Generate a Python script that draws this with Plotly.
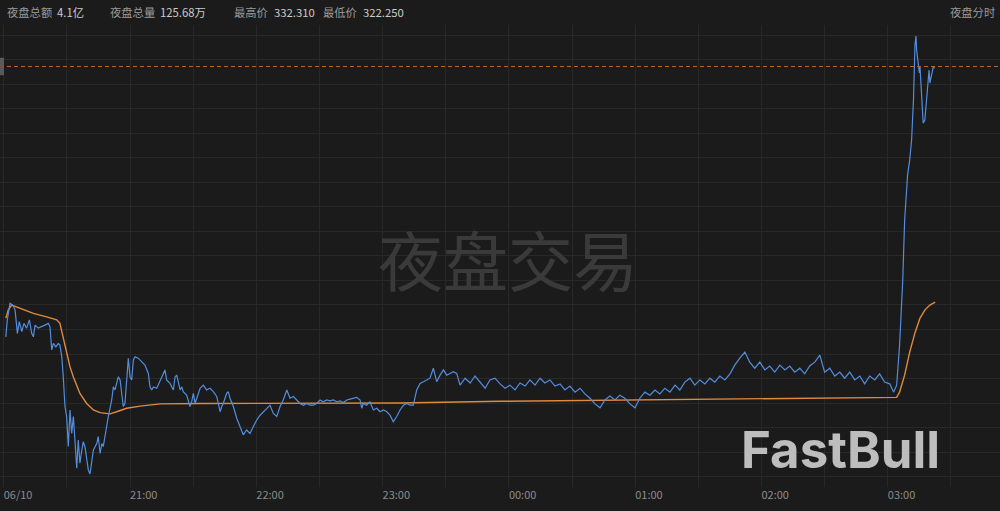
import plotly.graph_objects as go

# ---- data (minutes after 20:00, price) ----
blue_min = [1.0, 1.7, 3.0, 4.3, 5.4, 6.5, 7.4, 8.6, 9.6, 10.9, 12.2, 13.3, 14.1, 14.9, 16.4, 18.1, 19.6, 21.2, 22.0,
            22.8, 23.6, 24.8, 25.9, 26.7, 27.6, 28.3, 29.1, 29.9, 30.7, 31.5, 32.3, 33.1, 33.9, 34.7, 35.4, 36.2,
            37.1, 37.8, 38.6, 39.4, 40.2, 41.0, 41.8, 42.6, 44.2, 44.9, 45.8, 46.6, 47.3, 48.1, 48.9, 49.7, 51.3,
            52.1, 52.9, 53.7, 54.4, 55.3, 56.1, 56.8, 57.6, 58.4, 59.2, 60.0, 60.8, 61.6, 62.4, 63.9, 65.6, 67.1,
            68.7, 69.5, 70.3, 71.1, 72.7, 74.3, 75.8, 76.6, 77.4, 79.0, 80.6, 81.4, 82.2, 83.0, 83.8, 84.6, 85.3,
            86.9, 88.5, 89.3, 90.1, 90.9, 91.7, 93.3, 94.8, 96.4, 98.0, 99.6, 101.2, 102.8, 103.6, 104.3, 105.9,
            106.7, 107.5, 109.1, 110.7, 112.3, 113.8, 115.4, 117.0, 118.6, 120.2, 121.8, 123.3, 124.9, 126.5,
            128.1, 129.7, 131.3, 132.8, 134.5, 135.2, 136.0, 137.6, 139.2, 140.8, 142.3, 144.0, 145.5, 147.1,
            148.7, 150.3, 151.8, 153.5, 155.0, 156.6, 158.2, 159.8, 161.3, 163.0, 164.5, 166.1, 167.7, 169.3,
            170.1, 170.8, 172.4, 174.0, 175.6, 177.2, 178.8, 180.4, 182.0, 183.5, 185.1, 186.7, 188.3, 189.9,
            191.5, 193.0, 194.6, 196.2, 197.8, 199.4, 201.0, 202.5, 204.1, 205.7, 207.3, 208.9, 210.5, 212.0,
            213.6, 215.2, 216.8, 219.2, 221.6, 223.9, 226.3, 228.7, 231.0, 233.4, 235.8, 238.2, 240.5, 242.9,
            245.3, 247.7, 250.0, 252.4, 254.8, 257.1, 259.5, 261.9, 264.3, 266.6, 269.0, 271.4, 273.8, 276.1,
            278.5, 280.9, 283.3, 285.6, 288.0, 290.4, 292.7, 295.1, 297.5, 299.9, 302.2, 304.6, 307.0, 309.4,
            311.7, 314.1, 316.5, 318.9, 321.2, 323.6, 326.0, 328.3, 330.7, 333.1, 335.5, 337.8, 340.2, 342.6,
            345.0, 347.3, 349.7, 352.1, 354.4, 356.8, 359.2, 361.6, 363.9, 366.3, 368.7, 371.1, 373.4, 375.8,
            378.2, 380.5, 382.9, 385.3, 387.7, 390.0, 392.4, 394.8, 397.2, 399.5, 401.9, 404.3, 406.7, 409.0,
            411.4, 413.8, 416.1, 418.5, 420.9, 422.8, 424.2, 425.6, 427.1, 428.0, 429.4, 430.4, 431.3, 432.2,
            432.9, 433.4, 433.7, 434.5, 435.0, 435.3, 436.1, 436.6, 436.8, 437.6, 438.4, 439.2, 439.6, 440.0,
            440.8, 441.6, 442.2]
blue_price = [325.40, 325.79, 326.17, 326.13, 326.02, 325.48, 325.75, 325.52, 325.71, 325.60, 325.79, 325.48, 325.40,
              325.67, 325.60, 325.63, 325.67, 325.71, 325.63, 325.10, 325.25, 325.17, 325.25, 325.21, 324.94, 324.48,
              323.80, 323.57, 322.88, 323.72, 323.18, 323.57, 322.88, 322.38, 323.03, 322.50, 322.80, 322.99, 322.88,
              322.65, 322.34, 322.25, 322.50, 322.80, 322.95, 323.11, 322.72, 322.95, 322.88, 323.11, 323.41, 323.57,
              323.95, 324.25, 324.18, 324.33, 324.48, 324.41, 324.10, 323.80, 323.87, 324.48, 324.91, 324.48, 324.41,
              324.87, 324.94, 324.91, 324.83, 324.75, 324.56, 324.25, 324.18, 324.25, 324.22, 324.41, 324.56, 324.64,
              324.41, 324.33, 324.18, 324.48, 324.52, 324.33, 324.18, 324.25, 324.14, 324.06, 323.80, 323.91, 324.10,
              323.87, 323.99, 324.22, 324.29, 324.18, 324.22, 324.14, 324.03, 323.68, 323.80, 323.87, 324.10, 324.14,
              323.99, 323.80, 323.53, 323.34, 323.15, 323.26, 323.18, 323.34, 323.49, 323.60, 323.68, 323.76, 323.83,
              323.64, 323.57, 323.80, 323.95, 324.18, 324.10, 323.99, 324.03, 323.95, 323.87, 323.83, 323.87, 323.83,
              323.83, 323.87, 323.95, 323.91, 323.95, 323.93, 323.95, 323.91, 323.93, 323.89, 323.95, 323.97, 323.99,
              324.01, 323.95, 323.76, 323.87, 323.83, 323.91, 323.72, 323.76, 323.68, 323.72, 323.68, 323.60, 323.45,
              323.57, 323.72, 323.83, 323.87, 323.83, 323.83, 324.18, 324.33, 324.37, 324.41, 324.45, 324.68, 324.37,
              324.52, 324.64, 324.52, 324.56, 324.60, 324.56, 324.29, 324.45, 324.34, 324.50, 324.36, 324.22, 324.41,
              324.45, 324.32, 324.22, 324.29, 324.18, 324.34, 324.27, 324.41, 324.29, 324.45, 324.34, 324.41, 324.27,
              324.32, 324.18, 324.27, 324.13, 324.22, 324.09, 323.99, 323.86, 323.77, 323.95, 324.04, 323.95, 324.06,
              323.99, 323.86, 323.77, 323.99, 324.13, 324.06, 324.18, 324.09, 324.22, 324.13, 324.29, 324.18, 324.36,
              324.45, 324.29, 324.41, 324.32, 324.45, 324.36, 324.50, 324.41, 324.55, 324.75, 324.91, 325.05, 324.82,
              324.68, 324.82, 324.64, 324.73, 324.59, 324.75, 324.64, 324.73, 324.59, 324.68, 324.55, 324.73, 324.82,
              324.98, 324.59, 324.68, 324.50, 324.59, 324.45, 324.59, 324.41, 324.50, 324.32, 324.50, 324.41, 324.55,
              324.36, 324.32, 324.13, 324.29, 325.21, 326.70, 328.08, 329.12, 329.46, 329.92, 330.84, 332.10, 332.31,
              331.99, 331.69, 331.46, 331.60, 331.00, 330.68, 330.31, 330.38, 330.91, 331.30, 331.53, 331.23, 331.46,
              331.60, 331.57]

avg_min = [1.0, 2.2, 3.8, 6.2, 9.3, 14.1, 20.4, 25.2, 26.7, 28.3, 29.9, 31.5, 33.1, 36.2, 39.4, 42.6, 45.8, 50.5,
           53.7, 58.4, 64.8, 74.3, 93.3, 117.0, 140.8, 188.3, 235.8, 283.3, 330.7, 378.2, 424.2, 425.6, 428.0,
           430.4, 432.9, 435.3, 437.7, 440.0, 442.5]
avg_price = [325.83, 326.02, 326.13, 326.09, 326.02, 325.94, 325.86, 325.79, 325.71, 325.40, 325.02, 324.71, 324.48,
             324.10, 323.87, 323.72, 323.66, 323.63, 323.68, 323.76, 323.81, 323.86, 323.87, 323.87, 323.87, 323.88,
             323.92, 323.94, 323.96, 323.98, 324.01, 324.13, 324.52, 325.05, 325.49, 325.83, 326.02, 326.13, 326.20]

ref_price = 331.61
tick_minutes = [0, 60, 120, 180, 240, 300, 360, 420]
tick_labels = ["06/10", "21:00", "22:00", "23:00", "00:00", "01:00", "02:00", "03:00"]

header_labels = ["夜盘总额", "夜盘总量", "最高价", "最低价"]
header_values = ["4.1亿", "125.68万", "332.310", "322.250"]

BG = "#1b1b1b"
GRID = "#282828"
FONT = "Noto Sans CJK SC, sans-serif"

fig = go.Figure()
fig.add_trace(go.Scatter(x=avg_min, y=avg_price, mode="lines",
                         line=dict(color="#e08a3e", width=1.4), hoverinfo="skip"))
fig.add_trace(go.Scatter(x=blue_min, y=blue_price, mode="lines",
                         line=dict(color="#548ddd", width=1.2), hoverinfo="skip"))

fig.add_hline(y=ref_price, line=dict(color="#b8662e", width=1, dash="4px,3px"))

# left axis marker
fig.add_shape(type="rect", xref="paper", yref="y", x0=0, x1=0.004,
              y0=ref_price - 0.2, y1=ref_price + 0.2, fillcolor="#5a5a5a", line_width=0)

# header
hx_lab = [5, 108, 232, 321]
hx_val = [55, 158, 272, 361]
for lab, val, xl, xv in zip(header_labels, header_values, hx_lab, hx_val):
    fig.add_annotation(x=xl / 1000, y=1 + 13 / 462, xref="paper", yref="paper", text=lab,
                       showarrow=False, xanchor="left", yanchor="middle",
                       font=dict(family=FONT, size=11.3, color="#9a9a9a"))
    fig.add_annotation(x=xv / 1000, y=1 + 13 / 462, xref="paper", yref="paper", text=val,
                       showarrow=False, xanchor="left", yanchor="middle",
                       font=dict(family=FONT, size=11.3, color="#cccccc"))
fig.add_annotation(x=0.997, y=1 + 13 / 462, xref="paper", yref="paper", text="夜盘分时",
                   showarrow=False, xanchor="right", yanchor="middle",
                   font=dict(family=FONT, size=11.3, color="#9a9a9a"))

# watermarks
fig.add_annotation(x=508 / 1000, y=(487 - 258) / 462, xref="paper", yref="paper", text="夜盘交易",
                   showarrow=False, xanchor="center", yanchor="middle",
                   font=dict(family=FONT, size=65, color="#3a3a3a"))
fig.add_annotation(x=840 / 1000, y=(487 - 449) / 462, xref="paper", yref="paper", text="<b>FastBull</b>",
                   showarrow=False, xanchor="center", yanchor="middle",
                   font=dict(family="Inter, sans-serif", size=51, color="#bdbdbd"))

fig.update_layout(
    width=1000, height=511,
    margin=dict(l=0, r=0, t=25, b=24),
    paper_bgcolor=BG, plot_bgcolor=BG,
    showlegend=False,
    hovermode=False,
    xaxis=dict(range=[-1.76, 473.3], tickvals=tick_minutes, ticktext=tick_labels,
               ticklabelposition="outside right", showgrid=True, gridcolor=GRID, gridwidth=1,
               minor=dict(dtick=30, tick0=0, showgrid=True, gridcolor=GRID, gridwidth=1),
               zeroline=False, showline=False, ticks="",
               tickfont=dict(family=FONT, size=11, color="#8c8c8c")),
    yaxis=dict(range=[321.951, 332.563], tick0=332.333, dtick=0.5637, showticklabels=False,
               showgrid=True, gridcolor=GRID, gridwidth=1, zeroline=False, showline=False, ticks=""),
)

fig.write_html("out.html", config={"displayModeBar": False},
               post_script="document.body.style.margin='0';document.body.style.background='#1b1b1b';")
